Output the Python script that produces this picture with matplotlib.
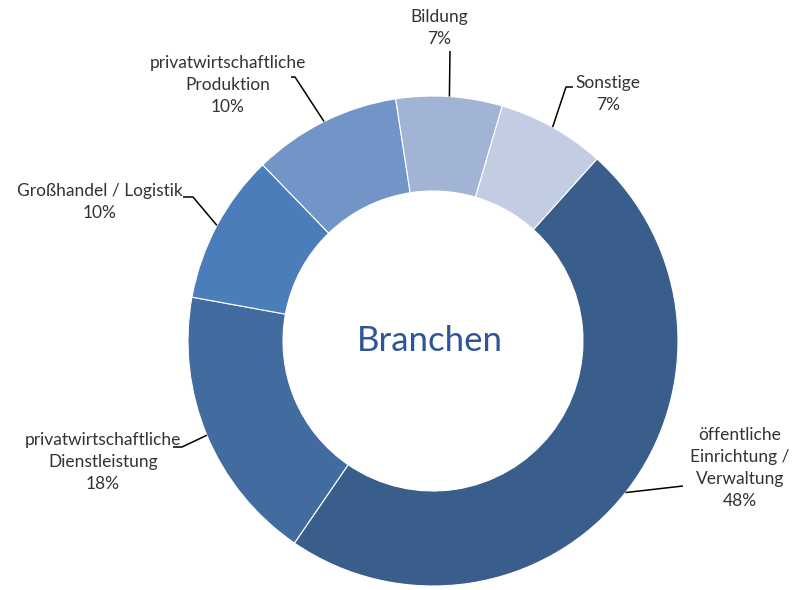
import matplotlib.pyplot as plt
import numpy as np

# Branchen, im Uhrzeigersinn ab "öffentliche Einrichtung"
labels = ["öffentliche\nEinrichtung /\nVerwaltung",
          "privatwirtschaftliche\nDienstleistung",
          "Großhandel / Logistik",
          "privatwirtschaftliche\nProduktion",
          "Bildung",
          "Sonstige"]
values = [47.9, 18.3, 9.9, 9.8, 7.0, 7.1]
colors = ["#3A5E8B", "#426CA0", "#4A7DBA", "#7394C6", "#A1B4D6", "#C2CDE3"]

# Positionen der Beschriftungen (Pixel, y von oben) und Knickpunkte der Linien
text_pos = [(740, 468), (103, 462), (100, 202), (228, 85), (439, 28), (608, 94)]
knick = [(683, 486), (182, 447), (193, 197), (295, 77), (450, 51), (566, 87)]
ende = [None, (173, 447), (183, 197), (291, 77), None, (573, 87)]

W, H = 804, 590
mitte = (433, H - 341)
r_aussen = 245
r_innen = 150

plt.rcParams['font.family'] = ['Lato', 'DejaVu Sans']

fig = plt.figure(figsize=(W / 100, H / 100), dpi=100)
ax = fig.add_axes([0, 0, 1, 1])

wedges, _ = ax.pie(values, colors=colors, startangle=48, counterclock=False,
                   radius=r_aussen, center=mitte,
                   wedgeprops=dict(width=r_aussen - r_innen, edgecolor="white", linewidth=0.8))

ax.set_xlim(0, W)
ax.set_ylim(0, H)
ax.set_aspect("equal")
ax.axis("off")

gesamt = sum(values)
for i, w in enumerate(wedges):
    winkel = np.deg2rad((w.theta1 + w.theta2) / 2)
    x0 = mitte[0] + r_aussen * np.cos(winkel)
    y0 = mitte[1] + r_aussen * np.sin(winkel)
    xs = [x0, knick[i][0]]
    ys = [y0, H - knick[i][1]]
    if ende[i] is not None:
        xs.append(ende[i][0])
        ys.append(H - ende[i][1])
    ax.plot(xs, ys, color="black", lw=1.1, solid_capstyle="butt")
    txt = labels[i] + "\n" + "{:.0f}%".format(values[i] / gesamt * 100)
    ax.text(text_pos[i][0], H - text_pos[i][1], txt, ha="center", va="center",
            multialignment="center", fontsize=12.5, color="#333333", linespacing=1.47)

ax.text(mitte[0] - 3, mitte[1], "Branchen", ha="center", va="center",
        fontsize=25, color="#2F5597")

fig.savefig("out.png", dpi=100)
